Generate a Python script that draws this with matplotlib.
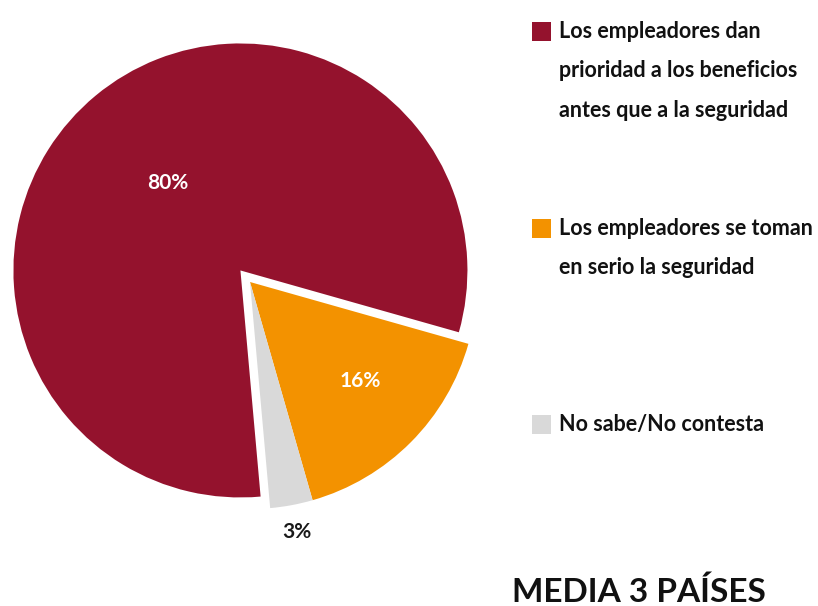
import matplotlib
matplotlib.use("Agg")
import matplotlib.pyplot as plt
from matplotlib.patches import Rectangle
import numpy as np

categories = ["Los empleadores dan\nprioridad a los beneficios\nantes que a la seguridad",
              "Los empleadores se toman\nen serio la seguridad",
              "No sabe/No contesta"]
values = [80, 16, 3]
labels = ["80%", "16%", "3%"]
colors = ["#94122D", "#F39200", "#D9D9D9"]
label_colors = ["white", "white", "#1a1a1a"]
label_dist = [0.50, 0.65, 1.12]
title = "MEDIA 3 PAÍSES"

plt.rcParams['font.family'] = ['Lato', 'DejaVu Sans']
W, H = 818, 606
fig = plt.figure(figsize=(W / 100, H / 100), dpi=100)
ax = fig.add_axes([0, 0, 1, 1])

cx, cy, R = 250, H - 282, 227
wedges, _ = ax.pie(values, colors=colors, startangle=-84.9, counterclock=False,
                   explode=[15, 0, 0], center=(cx, cy), radius=R,
                   wedgeprops=dict(linewidth=0), frame=False)
for i, (w, lab, col, d) in enumerate(zip(wedges, labels, label_colors, label_dist)):
    mid_deg = (w.theta1 + w.theta2) / 2
    if i == 1:
        mid_deg += 3
    mid = np.deg2rad(mid_deg)
    x0, y0 = w.center
    ax.text(x0 + d * R * np.cos(mid), y0 + d * R * np.sin(mid), lab,
            color=col, fontsize=15, fontweight='bold', ha='center', va='center')
ax.set_xlim(0, W)
ax.set_ylim(0, H)
ax.set_aspect('equal')
ax.axis('off')

# legend
leg_tops = [22, 219, 415]
for cat, col, top in zip(categories, colors, leg_tops):
    ax.add_patch(Rectangle((532, H - top - 19), 19, 19, color=col, lw=0))
    ax.text(559, H - top + 1, cat, fontsize=15.5, fontweight='bold', color='#111111',
            ha='left', va='top', linespacing=2.08)

ax.text(512, H - 601.5, title, fontsize=24, fontweight='bold', color='#111111',
        ha='left', va='baseline')

fig.savefig("out.png", dpi=100)
